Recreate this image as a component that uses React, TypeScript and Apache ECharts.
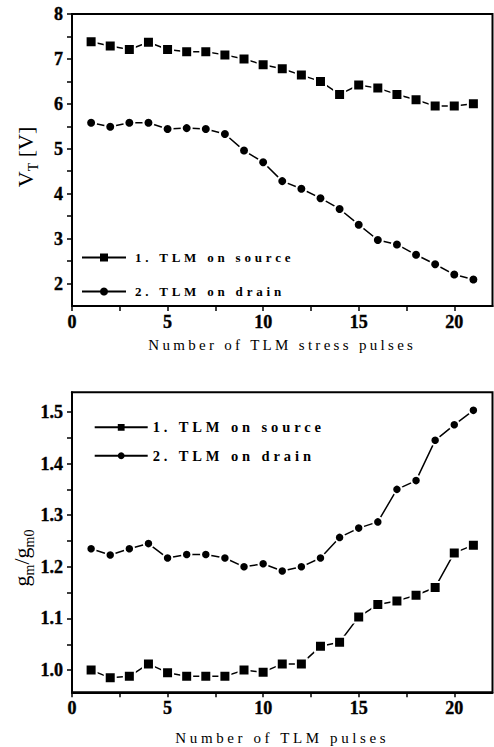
import React, { useEffect, useRef } from "react";
import * as echarts from "echarts";

// Pulse index shared by both panels
const PULSES = [1, 2, 3, 4, 5, 6, 7, 8, 9, 10, 11, 12, 13, 14, 15, 16, 17, 18, 19, 20, 21];

// Threshold voltage V_T [V]
const VT_SOURCE = [7.38, 7.29, 7.21, 7.37, 7.21, 7.16, 7.16, 7.09, 7.0, 6.87, 6.78, 6.64, 6.5, 6.21, 6.42, 6.35, 6.21, 6.09, 5.95, 5.95, 6.0];
const VT_DRAIN = [5.58, 5.49, 5.58, 5.58, 5.44, 5.46, 5.44, 5.33, 4.96, 4.7, 4.28, 4.11, 3.9, 3.66, 3.31, 2.97, 2.87, 2.64, 2.43, 2.2, 2.09];

// Normalised transconductance g_m / g_m0
const GM_SOURCE = [1.0, 0.985, 0.988, 1.012, 0.995, 0.988, 0.988, 0.988, 1.0, 0.996, 1.012, 1.012, 1.046, 1.054, 1.103, 1.127, 1.134, 1.145, 1.16, 1.227, 1.242];
const GM_DRAIN = [1.235, 1.223, 1.235, 1.245, 1.217, 1.224, 1.224, 1.217, 1.2, 1.206, 1.192, 1.2, 1.217, 1.257, 1.275, 1.287, 1.35, 1.367, 1.445, 1.475, 1.503];

const SOURCE_NAME = "1. TLM on source";
const DRAIN_NAME = "2. TLM on drain";

// Ticks and labels
const X_TICKS = [0, 2.5, 5, 7.5, 10, 12.5, 15, 17.5, 20];
const X_LABELS = [0, 5, 10, 15, 20];
const VT_TICKS = [2, 2.5, 3, 3.5, 4, 4.5, 5, 5.5, 6, 6.5, 7, 7.5, 8];
const VT_LABELS = [2, 3, 4, 5, 6, 7, 8];
const GM_TICKS = [1.0, 1.05, 1.1, 1.15, 1.2, 1.25, 1.3, 1.35, 1.4, 1.45, 1.5];
const GM_LABELS = [1.0, 1.1, 1.2, 1.3, 1.4, 1.5];

const TOP_X_NAME = "Number of TLM stress pulses";
const BOTTOM_X_NAME = "Number of TLM pulses";

const SERIF = "Liberation Serif, Times New Roman, serif";

// Tracking applied to spaced-out captions (SVG letter-spacing)
const TRACKING: Record<string, number> = {
  [TOP_X_NAME]: 3.3,
  [BOTTOM_X_NAME]: 3.6,
};

const pairs = (ys: number[]) => PULSES.map((p, i) => [p, ys[i]]);

const tickLabel = {
  color: "#000",
  fontFamily: SERIF,
  fontWeight: 700,
  fontSize: 18,
  textBorderColor: "#000",
  textBorderWidth: 0.4,
};

function xAxisOf(name: string, nameGap: number) {
  return {
    type: "value",
    min: 0,
    max: 22,
    name,
    nameLocation: "middle",
    nameGap,
    nameTextStyle: { color: "#000", fontFamily: SERIF, fontSize: 15 },
    axisLine: { show: true, onZero: false, lineStyle: { color: "#000", width: 2 } },
    axisTick: { show: true, inside: false, length: 5, customValues: X_TICKS, lineStyle: { color: "#000", width: 1.5 } },
    axisLabel: { ...tickLabel, margin: 7, customValues: X_LABELS, formatter: (v: number) => String(v) },
    splitLine: { show: false },
  };
}

function yAxisOf(min: number, max: number, ticks: number[], labels: number[], digits: number) {
  return {
    type: "value",
    min,
    max,
    axisLine: { show: true, onZero: false, lineStyle: { color: "#000", width: 2 } },
    axisTick: { show: true, inside: false, length: 5, customValues: ticks, lineStyle: { color: "#000", width: 1.5 } },
    axisLabel: { ...tickLabel, margin: 9, customValues: labels, formatter: (v: number) => v.toFixed(digits) },
    splitLine: { show: false },
  };
}

function lineSeries(name: string, data: number[][], symbol: string, size: number) {
  return {
    type: "line",
    name,
    data,
    symbol,
    symbolSize: size,
    lineStyle: { color: "#000", width: 1.5 },
    itemStyle: { color: "#000", borderColor: "#fff", borderWidth: 2 },
    emphasis: { disabled: true },
    z: 3,
  };
}

function legendOf(left: number, top: number, itemWidth: number, itemHeight: number, itemGap: number, fontSize: number, pad: number) {
  return {
    orient: "vertical",
    left,
    top,
    padding: 0,
    itemWidth,
    itemHeight,
    itemGap,
    selectedMode: false,
    data: [SOURCE_NAME, DRAIN_NAME],
    itemStyle: { borderWidth: 0 },
    textStyle: { color: "#000", fontFamily: SERIF, fontWeight: 700, fontSize, padding: [0, 0, 0, pad] },
  };
}

// Rotated y-axis titles with subscripts
const yNameRich = {
  a: { fontFamily: SERIF, fontSize: 22, fill: "#000", lineHeight: 30, verticalAlign: "middle" },
  s: { fontFamily: SERIF, fontSize: 14, fill: "#000", lineHeight: 14, verticalAlign: "bottom" },
};

function topOption() {
  return {
    animation: false,
    backgroundColor: "#fff",
    grid: {
      left: 72,
      right: 1.5,
      top: 14,
      bottom: 64,
      show: true,
      borderColor: "#000",
      borderWidth: 2,
      outerBoundsMode: "none",
      containLabel: false,
    },
    xAxis: xAxisOf(TOP_X_NAME, 31.5),
    yAxis: yAxisOf(1.5, 8, VT_TICKS, VT_LABELS, 0),
    legend: legendOf(81, 251, 44, 10, 21, 13, 4),
    series: [
      lineSeries(SOURCE_NAME, pairs(VT_SOURCE), "rect", 11),
      lineSeries(DRAIN_NAME, pairs(VT_DRAIN), "circle", 10),
    ],
    graphic: [
      {
        type: "text",
        x: 25,
        y: 157,
        rotation: Math.PI / 2,
        style: { text: "{a|V}{s|T}{a| [V]}", align: "center", verticalAlign: "middle", rich: yNameRich },
      },
    ],
  };
}

function bottomOption() {
  return {
    animation: false,
    backgroundColor: "#fff",
    grid: {
      left: 72,
      right: 1.5,
      top: 22.3,
      bottom: 54.7,
      show: true,
      borderColor: "#000",
      borderWidth: 2,
      outerBoundsMode: "none",
      containLabel: false,
    },
    xAxis: xAxisOf(BOTTOM_X_NAME, 38.5),
    yAxis: yAxisOf(0.957, 1.538, GM_TICKS, GM_LABELS, 1),
    legend: legendOf(93.7, 49.8, 53, 8.5, 13.4, 14.5, 0),
    series: [
      lineSeries(SOURCE_NAME, pairs(GM_SOURCE), "rect", 11),
      lineSeries(DRAIN_NAME, pairs(GM_DRAIN), "circle", 9.5),
    ],
    graphic: [
      {
        type: "text",
        x: 21,
        y: 188,
        rotation: Math.PI / 2,
        style: { text: "{a|g}{s|m}{a|/g}{s|m0}", align: "center", verticalAlign: "middle", rich: yNameRich },
      },
    ],
  };
}

function applyTracking(root: HTMLElement, extra: Record<string, number>) {
  const table = { ...TRACKING, ...extra };
  root.querySelectorAll("text").forEach((t) => {
    const s = table[(t.textContent || "").trim()];
    if (s) t.setAttribute("letter-spacing", String(s));
  });
}

function Panel({ option, top, height, tracking }: { option: any; top: number; height: number; tracking: Record<string, number> }) {
  const ref = useRef<HTMLDivElement>(null);
  useEffect(() => {
    const el = ref.current;
    if (!el) return;
    const chart = echarts.init(el, undefined, { renderer: "svg" });
    chart.setOption(option);
    const fix = () => applyTracking(el, tracking);
    fix();
    chart.on("finished", fix);
    return () => {
      chart.dispose();
    };
  }, []);
  return <div ref={ref} style={{ position: "absolute", left: 0, top, width: 494, height }} />;
}

export default function App() {
  return (
    <div style={{ position: "fixed", left: 0, top: 0, width: 494, height: 747, background: "#fff" }}>
      <Panel option={topOption()} top={0} height={370} tracking={{ [SOURCE_NAME]: 3.8, [DRAIN_NAME]: 3.8 }} />
      <Panel option={bottomOption()} top={370} height={377} tracking={{ [SOURCE_NAME]: 3.9, [DRAIN_NAME]: 3.9 }} />
    </div>
  );
}
